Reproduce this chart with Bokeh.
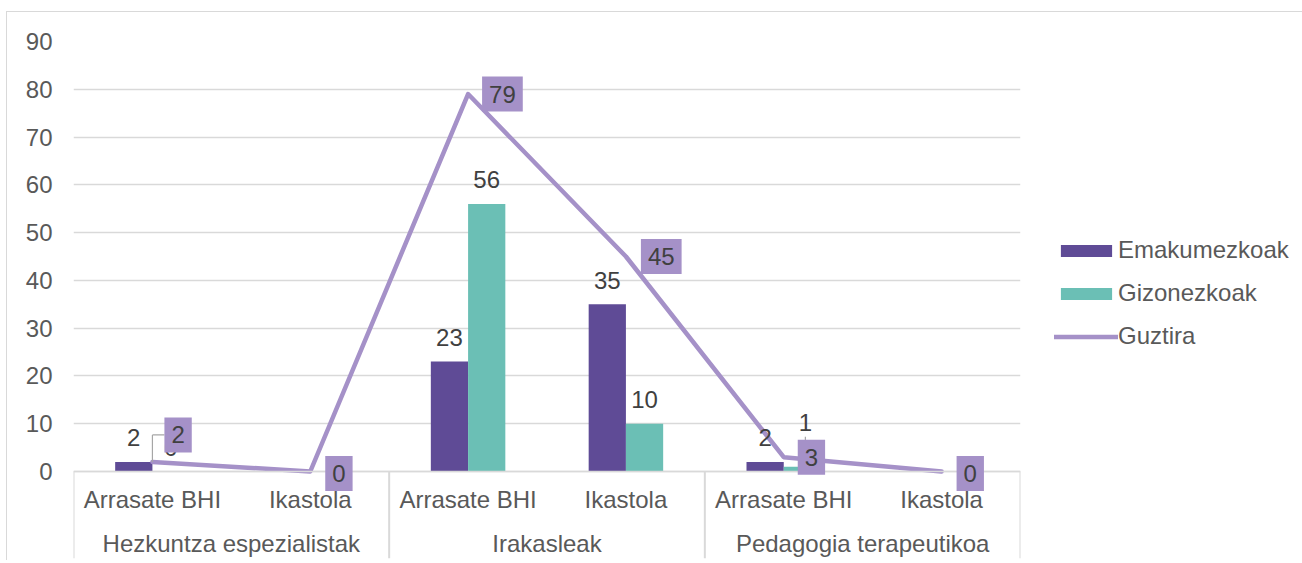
import math
from bokeh.plotting import figure
from bokeh.models import (ColumnDataSource, FactorRange, LabelSet, Label, Legend, LegendItem,
                          Range1d, FixedTicker)
from bokeh.transform import dodge
from bokeh.core.properties import value
from bokeh.embed import file_html
from bokeh.resources import INLINE

# ---------------- data ----------------
groups = ["Hezkuntza espezialistak", "Irakasleak", "Pedagogia terapeutikoa"]
subs = ["Arrasate BHI", "Ikastola"]
emakumezkoak = [2, None, 23, 35, 2, None]
gizonezkoak = [0, None, 56, 10, 1, None]
guztira = [2, 0, 79, 45, 3, 0]
y_ticks = [0, 10, 20, 30, 40, 50, 60, 70, 80, 90]
series_names = ["Emakumezkoak", "Gizonezkoak", "Guztira"]

# ---------------- style / layout ----------------
C_EMAK = "#5F4B96"
C_GIZ = "#6BBFB5"
C_TOT = "#A591C8"
GRID = "#D9D9D9"
AXIS_TXT = "#595959"
LBL_TXT = "#404040"
LEAD = "#A6A6A6"
FONT = "Liberation Sans"
FS = "24px"

MB_LEFT, MB_TOP, MB_BOTTOM, MB_RIGHT = 66, 29, 2, 280
FRAME_W, FRAME_H = 947, 517              # frame reaches down to the bottom of the labels
Y_MAX = 90
PXU = 430 / Y_MAX                        # pixels per unit of the value axis
Y_MIN = Y_MAX - FRAME_H / PXU            # space below zero holds the category labels
N = len(groups) * len(subs)
CAT_W = FRAME_W / N
BAR_W = 0.236
BAR_OFF = 0.118

factors = [(g, s) for g in groups for s in subs]
nan = float("nan")

x_range = FactorRange(*factors, factor_padding=0, group_padding=0,
                      subgroup_padding=0, range_padding=0)
p = figure(x_range=x_range, y_range=Range1d(Y_MIN, Y_MAX),
           frame_width=FRAME_W, frame_height=FRAME_H,
           output_backend="svg", toolbar_location=None,
           min_border_left=MB_LEFT, min_border_right=MB_RIGHT,
           min_border_top=MB_TOP, min_border_bottom=MB_BOTTOM)
p.styles = {"border": "1px solid #D9D9D9", "border-bottom": "none",
            "margin-left": "6px", "margin-top": "11px"}
p.outline_line_color = None
p.background_fill_color = "white"
p.border_fill_color = "white"

src = ColumnDataSource(dict(
    x=factors,
    emak=[nan if v is None else v for v in emakumezkoak],
    giz=[nan if v is None else v for v in gizonezkoak],
    tot=guztira,
))

# group separators under the axis
sep_x = [k * len(subs) for k in range(len(groups) + 1)]
p.segment(x0=sep_x, y0=[0] * len(sep_x), x1=sep_x, y1=[Y_MIN] * len(sep_x),
          line_color=GRID, line_width=2)

r_emak = p.vbar(x=dodge("x", -BAR_OFF, range=x_range), top="emak", width=BAR_W,
                source=src, fill_color=C_EMAK, line_color=None)
r_giz = p.vbar(x=dodge("x", BAR_OFF, range=x_range), top="giz", width=BAR_W,
               source=src, fill_color=C_GIZ, line_color=None)
r_tot = p.line(x="x", y="tot", source=src, line_color=C_TOT, line_width=4.5,
               line_join="round", line_cap="round")

# ---------------- axes / grid ----------------
xa = p.xaxis[0]
xa.fixed_location = 0
xa.major_tick_line_color = None
xa.minor_tick_line_color = None
xa.major_tick_out = 0
xa.major_tick_in = 0
xa.axis_line_color = GRID
xa.axis_line_width = 1.3
xa.major_label_text_font = FONT
xa.major_label_text_font_size = FS
xa.major_label_text_color = AXIS_TXT
xa.major_label_standoff = 14
xa.group_text_font = FONT
xa.group_text_font_size = FS
xa.group_text_color = AXIS_TXT
xa.group_text_font_style = "normal"
xa.separator_line_alpha = 0

ya = p.yaxis[0]
ya.ticker = FixedTicker(ticks=y_ticks)
ya.axis_line_color = None
ya.major_tick_line_color = None
ya.minor_tick_line_color = None
ya.major_tick_out = 0
ya.major_tick_in = 0
ya.major_label_standoff = 21
ya.major_label_text_font = FONT
ya.major_label_text_font_size = FS
ya.major_label_text_color = AXIS_TXT

p.xgrid.grid_line_color = None
p.ygrid.grid_line_color = GRID
p.ygrid.grid_line_width = 1.3

# ---------------- bar data labels ----------------
def bar_label_source(vals, extra_dy, extra_dx):
    xs, ys, ts, dys, dxs = [], [], [], [], []
    for i, v in enumerate(vals):
        if v is None:
            continue
        xs.append(factors[i]); ys.append(v); ts.append(str(v))
        dys.append(24 + extra_dy.get(i, 0)); dxs.append(extra_dx.get(i, 0))
    return ColumnDataSource(dict(x=xs, y=ys, t=ts, dy=dys, dx=dxs))

src_le = bar_label_source(emakumezkoak, {}, {})
src_lg = bar_label_source(gizonezkoak, {4: 20}, {4: 3})

for s, off in ((src_le, -BAR_OFF), (src_lg, BAR_OFF)):
    p.add_layout(LabelSet(x=dodge("x", off, range=x_range), y="y", text="t", source=s,
                          x_offset="dx", y_offset="dy", text_align="center",
                          text_baseline="middle", text_font=value(FONT),
                          text_font_size=value(FS), text_color=value(LBL_TXT)))

# leader lines for moved labels
lead_tot = ColumnDataSource(dict(x=[factors[0]], y0=[guztira[0]],
                                 y1=[guztira[0] + 27 / PXU]))
p.segment(x0="x", y0="y0", x1="x", y1="y1", source=lead_tot, line_color=LEAD, line_width=1.2)
p.segment(x0="x", y0="y1", x1=dodge("x", 12 / CAT_W, range=x_range), y1="y1",
          source=lead_tot, line_color=LEAD, line_width=1.2)
lead_giz = ColumnDataSource(dict(x=[factors[4]], y0=[gizonezkoak[4]],
                                 y1=[gizonezkoak[4] + 30 / PXU]))
p.segment(x0=dodge("x", BAR_OFF + 3 / CAT_W, range=x_range), y0="y0",
          x1=dodge("x", BAR_OFF + 3 / CAT_W, range=x_range), y1="y1",
          source=lead_giz, line_color=LEAD, line_width=1.2)

# ---------------- total labels (boxed) ----------------
tot_dy = [27, -2, 0, 0, 0, -2]
tot_dx = [12, 15, 14, 15, 14, 15]
for i, v in enumerate(guztira):
    p.add_layout(Label(x=i + 0.5, y=v, text=str(v), x_offset=tot_dx[i], y_offset=tot_dy[i],
                       text_align="left", text_baseline="middle", text_font=FONT,
                       text_font_size=FS, text_color=LBL_TXT,
                       background_fill_color=C_TOT,
                       padding=dict(left=7, right=7, top=9, bottom=9)))

# ---------------- legend ----------------
legend = Legend(items=[LegendItem(label=series_names[0], renderers=[r_emak]),
                       LegendItem(label=series_names[1], renderers=[r_giz]),
                       LegendItem(label=series_names[2], renderers=[r_tot])],
                location=(34, 208), orientation="vertical",
                glyph_width=64, glyph_height=15, label_standoff=0,
                label_text_font=FONT, label_text_font_size=FS, label_text_color=AXIS_TXT,
                label_height=27, label_width=181, spacing=15, padding=0, margin=0,
                border_line_color=None, background_fill_alpha=0)
p.add_layout(legend, "right")

open("out.html", "w").write(file_html(p, INLINE))
